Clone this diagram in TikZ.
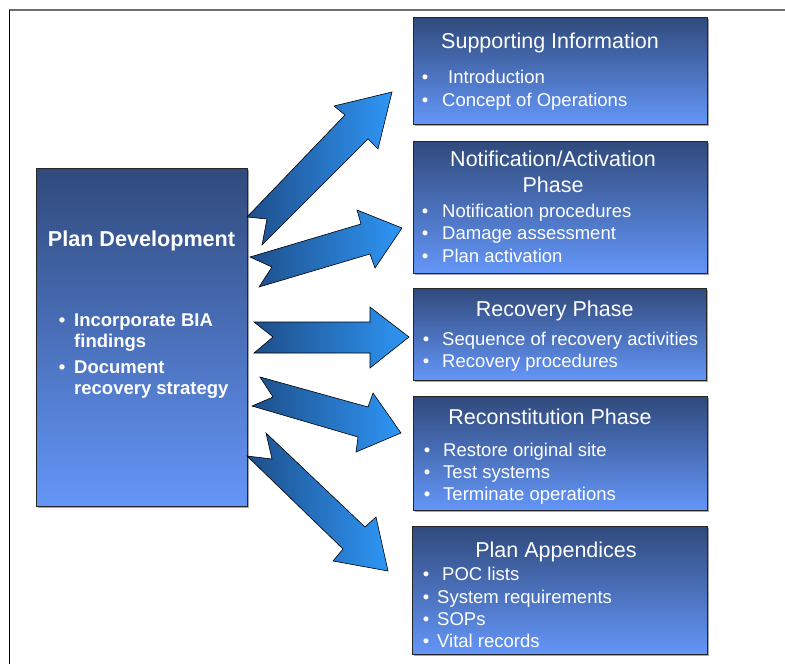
\documentclass[tikz,border=0pt]{standalone}
\usepackage{fontspec}
\setmainfont{Liberation Sans}
\usetikzlibrary{shadows}
\definecolor{boxtop}{RGB}{48,74,124}
\definecolor{boxbot}{RGB}{100,150,248}
\definecolor{arrL}{RGB}{30,78,138}
\definecolor{arrR}{RGB}{46,150,245}
\definecolor{framegray}{RGB}{110,110,110}
\begin{document}
\begin{tikzpicture}[x=1pt,y=-1pt,
  phasebox/.style={draw=black!85, line width=0.8pt, top color=boxtop, bottom color=boxbot,
    anchor=north west, inner sep=0pt,
    general shadow={fill=gray!70, shadow xshift=1.5pt, shadow yshift=-1.5pt}},
  ttl/.style={text=white, anchor=base, inner sep=0pt, font=\fontsize{21.5}{26}\selectfont},
  itm/.style={text=white, anchor=base west, inner sep=0pt, font=\fontsize{18.5}{22}\selectfont},
  dot/.style={text=white, anchor=base, inner sep=0pt, font=\fontsize{18.5}{22}\selectfont},
  bttl/.style={text=white, anchor=base, inner sep=0pt, font=\bfseries\fontsize{21.6}{26}\selectfont},
  bitm/.style={text=white, anchor=base west, inner sep=0pt, font=\bfseries\fontsize{18.5}{22}\selectfont},
  bdot/.style={text=white, anchor=base, inner sep=0pt, font=\bfseries\fontsize{18.5}{22}\selectfont},
  blockarrow/.style={draw=black, line width=0.6pt, left color=arrL, right color=arrR, line join=miter}
]
\useasboundingbox (0,0) rectangle (785,664);
% frame
\coordinate (fTL) at (9,10);
\coordinate (fTR) at (785,10);
\coordinate (fBL) at (9,664);
\draw[framegray, line width=1.5pt] (fTL) -- (fTR);
\draw[black, line width=0.8pt] (fTL) -- (fBL);

% boxes
\node[phasebox, minimum width=211pt, minimum height=338pt] (main) at (36,168) {};
\node[phasebox, minimum width=294pt, minimum height=107pt] (sup) at (413,17) {};
\node[phasebox, minimum width=294pt, minimum height=132pt] (noti) at (413,141) {};
\node[phasebox, minimum width=293pt, minimum height=92pt] (reco) at (413,288) {};
\node[phasebox, minimum width=294pt, minimum height=114pt] (recon) at (413,396) {};
\node[phasebox, minimum width=295pt, minimum height=128pt] (appx) at (412,526) {};

% arrows
\path[blockarrow] (247,217) -- (345,115) -- (334,106) -- (392,92) -- (378,149) -- (368,139) -- (262,245) -- (267,219) -- cycle;
\path[blockarrow] (250,257) -- (361,224) -- (357,210) -- (402,228) -- (375,268) -- (370,254) -- (259,287) -- (272,267) -- cycle;
\path[blockarrow] (254,322) -- (370,322) -- (370,307) -- (409,337) -- (370,368) -- (370,353) -- (254,353) -- (273,337) -- cycle;
\path[blockarrow] (260,377) -- (368,407) -- (373,393) -- (401,433) -- (356,452) -- (358,437) -- (252,406) -- (273,397) -- cycle;
\path[blockarrow] (266,433) -- (365,527) -- (376,517) -- (388,571) -- (333,561) -- (343,549) -- (247,456) -- (272,459) -- cycle;

% main box text
\node[bttl] (mainT) at (141.5,246) {Plan Development};
\node[bdot] (mD1) at (62,326) {\textbullet};
\node[bitm] (m1a) at (74,326) {Incorporate BIA};
\node[bitm] (m1b) at (74,347) {findings};
\node[bdot] (mD2) at (62,373) {\textbullet};
\node[bitm] (m2a) at (74,373) {Document};
\node[bitm] (m2b) at (74,394) {recovery strategy};

% supporting information
\node[ttl] (supT) at (550,48.3) {Supporting Information};
\node[dot] (sD1) at (425,83) {\textbullet};
\node[itm] (s1) at (448,83) {Introduction};
\node[dot] (sD2) at (425,106) {\textbullet};
\node[itm] (s2) at (442,106) {Concept of Operations};

% notification
\node[ttl] (notT1) at (553,166) {Notification/Activation};
\node[ttl] (notT2) at (553,192) {Phase};
\node[dot] (nD1) at (425,217) {\textbullet};
\node[itm] (n1) at (442,217) {Notification procedures};
\node[dot] (nD2) at (425,239) {\textbullet};
\node[itm] (n2) at (442,239) {Damage assessment};
\node[dot] (nD3) at (425,262) {\textbullet};
\node[itm] (n3) at (442,262) {Plan activation};

% recovery
\node[ttl] (recT) at (554.7,316) {Recovery Phase};
\node[dot] (rD1) at (426,345) {\textbullet};
\node[itm] (r1) at (442,345) {Sequence of recovery activities};
\node[dot] (rD2) at (426,367) {\textbullet};
\node[itm] (r2) at (442,367) {Recovery procedures};

% reconstitution
\node[ttl] (rcT) at (550,424) {Reconstitution Phase};
\node[dot] (cD1) at (427,456) {\textbullet};
\node[itm] (c1) at (443,456) {Restore original site};
\node[dot] (cD2) at (427,478) {\textbullet};
\node[itm] (c2) at (443,478) {Test systems};
\node[dot] (cD3) at (427,500) {\textbullet};
\node[itm] (c3) at (443,500) {Terminate operations};

% appendices
\node[ttl] (apT) at (556,557) {Plan Appendices};
\node[dot] (aD1) at (426,580) {\textbullet};
\node[itm] (a1) at (442,580) {POC lists};
\node[dot] (aD2) at (426,603) {\textbullet};
\node[itm] (a2) at (437,603) {System requirements};
\node[dot] (aD3) at (426,625) {\textbullet};
\node[itm] (a3) at (437,625) {SOPs};
\node[dot] (aD4) at (426,647) {\textbullet};
\node[itm] (a4) at (437,647) {Vital records};
\end{tikzpicture}
\end{document}
